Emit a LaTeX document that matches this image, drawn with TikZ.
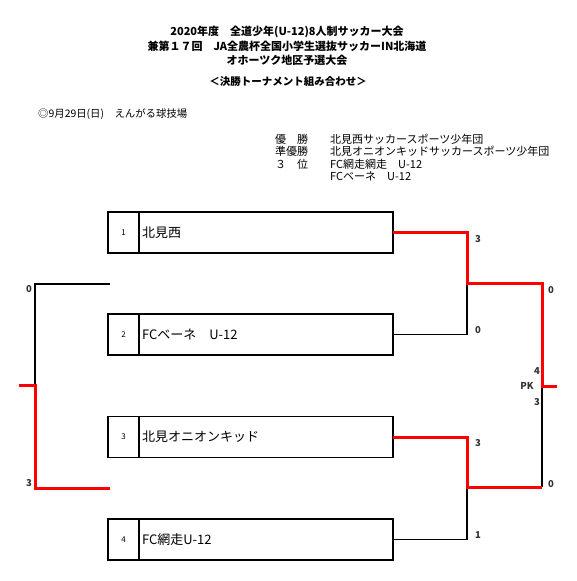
\documentclass[tikz,border=0pt]{standalone}
\usepackage{fontspec}
\setmainfont{Noto Sans CJK JP}
\usetikzlibrary{positioning,calc}

\begin{document}
\begin{tikzpicture}[x=1pt, y=-1pt,
    numcell/.style={draw, line width=1.6pt, outer sep=0pt, minimum width=31pt, minimum height=41pt, inner sep=0pt, font=\fontsize{8}{9}\selectfont},
    teamcell/.style={draw, line width=1.6pt, outer sep=0pt, text width=248pt, minimum height=41pt, inner sep=3pt, align=left, font=\fontsize{13}{15}\selectfont},
    title/.style={font=\bfseries\fontsize{11}{13}\selectfont, inner sep=0pt},
    info/.style={font=\fontsize{11}{13}\selectfont, anchor=west, inner sep=0pt},
    score/.style={font=\bfseries\fontsize{9.5}{11}\selectfont, text=black!80, inner sep=0pt},
    line/.style={line width=1.7pt, draw=black},
    winline/.style={line width=3pt, draw=red},
]
\useasboundingbox (0,0) rectangle (576,581);

% Titles
\node[title] (title1) at (287,32) {2020年度　全道少年(U-12)8人制サッカー大会};
\node[title] (title2) at (287,46) {兼第１７回　JA全農杯全国小学生選抜サッカーIN北海道};
\node[title] (title3) at (287,60) {オホーツク地区予選大会};
\node[title, font=\bfseries\fontsize{10.5}{12}\selectfont] (title4) at (288,82) {＜決勝トーナメント組み合わせ＞};

\node[info, font=\fontsize{10.4}{12}\selectfont] (date) at (38,114) {◎9月29日(日)　えんがる球技場};

% Results
\node[info] (rank1) at (275,139) {優　勝};
\node[info] (rank2) at (275,151) {準優勝};
\node[info] (rank3) at (275,164) {３　位};
\node[info] (res1) at (330,139) {北見西サッカースポーツ少年団};
\node[info] (res2) at (330,151) {北見オニオンキッドサッカースポーツ少年団};
\node[info] (res3) at (330,164) {FC網走網走　U-12};
\node[info] (res4) at (330,176) {FCベーネ　U-12};

% Teams
\node[numcell] (num1) at (123.5,232.5) {1};
\node[teamcell, right=0pt of num1] (team1) {北見西};
\node[numcell] (num2) at (123.5,334.5) {2};
\node[teamcell, right=0pt of num2] (team2) {FCベーネ　U-12};
\node[numcell] (num3) at (123.5,437) {3};
\node[teamcell, right=0pt of num3] (team3) {北見オニオンキッド};
\node[numcell] (num4) at (123.5,539.5) {4};
\node[teamcell, right=0pt of num4] (team4) {FC網走U-12};

% Bracket points
\coordinate (semi1) at (467,283);
\coordinate (semi2) at (467,487);
\coordinate (finA) at (542,283);
\coordinate (finB) at (542,487);
\coordinate (champ) at (542,386);
\coordinate (champout) at (557,386);
\coordinate (leftA) at (110,284);
\coordinate (leftB) at (110,488);
\coordinate (leftC) at (35,385);
\coordinate (leftout) at (19,385);

% Losing sides
\draw[line] (team2.east) -| (semi1);
\draw[line] (team4.east) -| (semi2);
\draw[line] (champ) -- (finB);
\draw[line] (leftA) -| (leftC);

% Winning sides
\draw[winline] (team1.east) -| (semi1) -- (finA) -- (champ) -- (champout);
\draw[winline] (team3.east) -| (semi2) -- (finB);
\draw[winline] (leftB) -| (leftC) -- (leftout);

% Scores
\node[score] (s1) at (478,239) {3};
\node[score] (s2) at (478,330) {0};
\node[score] (s3) at (478,443) {3};
\node[score] (s4) at (478,535) {1};
\node[score] (s5) at (551,290) {0};
\node[score] (s6) at (551,484) {0};
\node[score] (pk1) at (537,371) {4};
\node[score] (pk) at (527,386) {PK};
\node[score] (pk2) at (537,402) {3};
\node[score] (s7) at (29,289) {0};
\node[score] (s8) at (29,483) {3};

\end{tikzpicture}
\end{document}
